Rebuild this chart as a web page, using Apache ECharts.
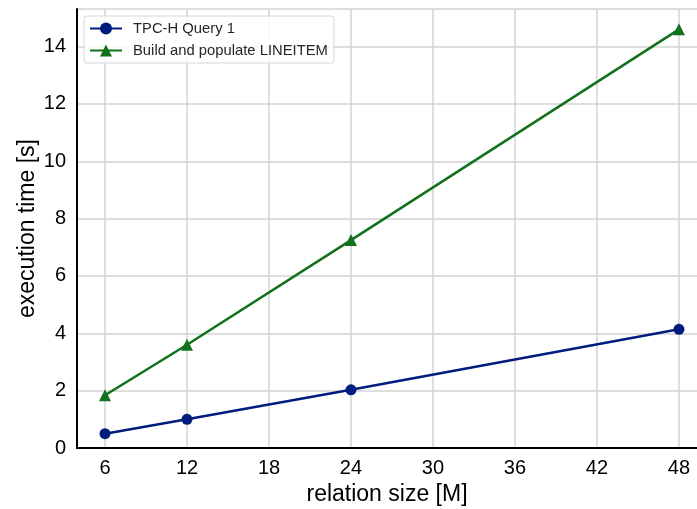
<!DOCTYPE html>
<html>
<head>
<meta charset="utf-8">
<script src="https://cdn.jsdelivr.net/npm/echarts@6/dist/echarts.min.js"></script>
<style>
  html, body { margin: 0; padding: 0; background: #fff; }
  #chart { width: 697px; height: 509px; }
</style>
</head>
<body>
<div id="chart"></div>
<script>
// Relation sizes (millions of rows)
const relationSizes = [6, 12, 24, 48];
// Execution times in seconds
const tpchQuery1 = [0.5, 1.0, 2.03, 4.14];
const buildLineitem = [1.84, 3.6, 7.25, 14.6];
const seriesNames = ['TPC-H Query 1', 'Build and populate LINEITEM'];
const xTicks = [6, 12, 18, 24, 30, 36, 42, 48];

const FONT = '"Liberation Sans", Arial, sans-serif';
const GRID_COLOR = '#d3d3d3';
const pairs = (xs, ys) => xs.map((x, i) => [x, ys[i]]);

const chart = echarts.init(document.getElementById('chart'), null, { renderer: 'canvas' });
chart.setOption({
  animation: false,
  backgroundColor: '#ffffff',
  textStyle: { fontFamily: FONT },
  grid: { left: 77, top: 9, bottom: 61, right: 0, outerBoundsMode: 'none', containLabel: false },
  legend: {
    left: 84, top: 16,
    orient: 'vertical',
    data: seriesNames,
    backgroundColor: 'rgba(255,255,255,0.85)',
    borderColor: '#d6d6d6', borderWidth: 1, borderRadius: 3,
    padding: [5, 6, 5, 5],
    itemGap: 7,
    itemWidth: 32, itemHeight: 15,
    textStyle: { fontFamily: FONT, fontSize: 14.8, color: '#262626', padding: [0, 0, 0, 6] }
  },
  xAxis: [
    {
      type: 'value',
      min: 3.95, max: 49.32,
      name: 'relation size [M]',
      nameLocation: 'middle',
      nameGap: 35,
      nameMoveOverlap: false,
      nameTextStyle: { fontFamily: FONT, fontSize: 23, color: '#000' },
      axisLine: { show: true, onZero: false, lineStyle: { color: '#000', width: 2 } },
      axisTick: { show: false, customValues: xTicks },
      axisLabel: {
        margin: 10, fontSize: 20, color: '#000', fontFamily: FONT,
        customValues: xTicks
      },
      splitLine: { show: true, lineStyle: { color: GRID_COLOR, width: 1.5 } }
    },
    {
      // top frame line
      type: 'value', position: 'top',
      min: 3.95, max: 49.32,
      axisLine: { show: true, lineStyle: { color: '#000', width: 2 } },
      axisTick: { show: false }, axisLabel: { show: false }, splitLine: { show: false }
    }
  ],
  yAxis: {
    type: 'value',
    min: 0, max: 15.31,
    interval: 2,
    name: 'execution time [s]',
    nameLocation: 'middle',
    nameGap: 38,
    nameMoveOverlap: false,
    nameTextStyle: { fontFamily: FONT, fontSize: 23, color: '#000' },
    axisLine: { show: true, onZero: false, lineStyle: { color: '#000', width: 2 } },
    axisTick: { show: false },
    axisLabel: {
      margin: 11, fontSize: 20, color: '#000', fontFamily: FONT,
      showMaxLabel: false,
      formatter: v => (Math.abs(v - Math.round(v)) < 1e-6 ? String(Math.round(v)) : '')
    },
    splitLine: { show: true, lineStyle: { color: GRID_COLOR, width: 1.5 } }
  },
  series: [
    {
      name: seriesNames[0], type: 'line',
      data: pairs(relationSizes, tpchQuery1),
      color: '#001c7f',
      lineStyle: { width: 2.5, color: '#001c7f' },
      symbol: 'circle', symbolSize: 11,
      itemStyle: { color: '#001c7f' },
      z: 3
    },
    {
      name: seriesNames[1], type: 'line',
      data: pairs(relationSizes, buildLineitem),
      color: '#12711c',
      lineStyle: { width: 2.5, color: '#12711c' },
      symbol: 'triangle', symbolSize: 12,
      itemStyle: { color: '#12711c' },
      z: 3
    }
  ]
});
</script>
</body>
</html>
